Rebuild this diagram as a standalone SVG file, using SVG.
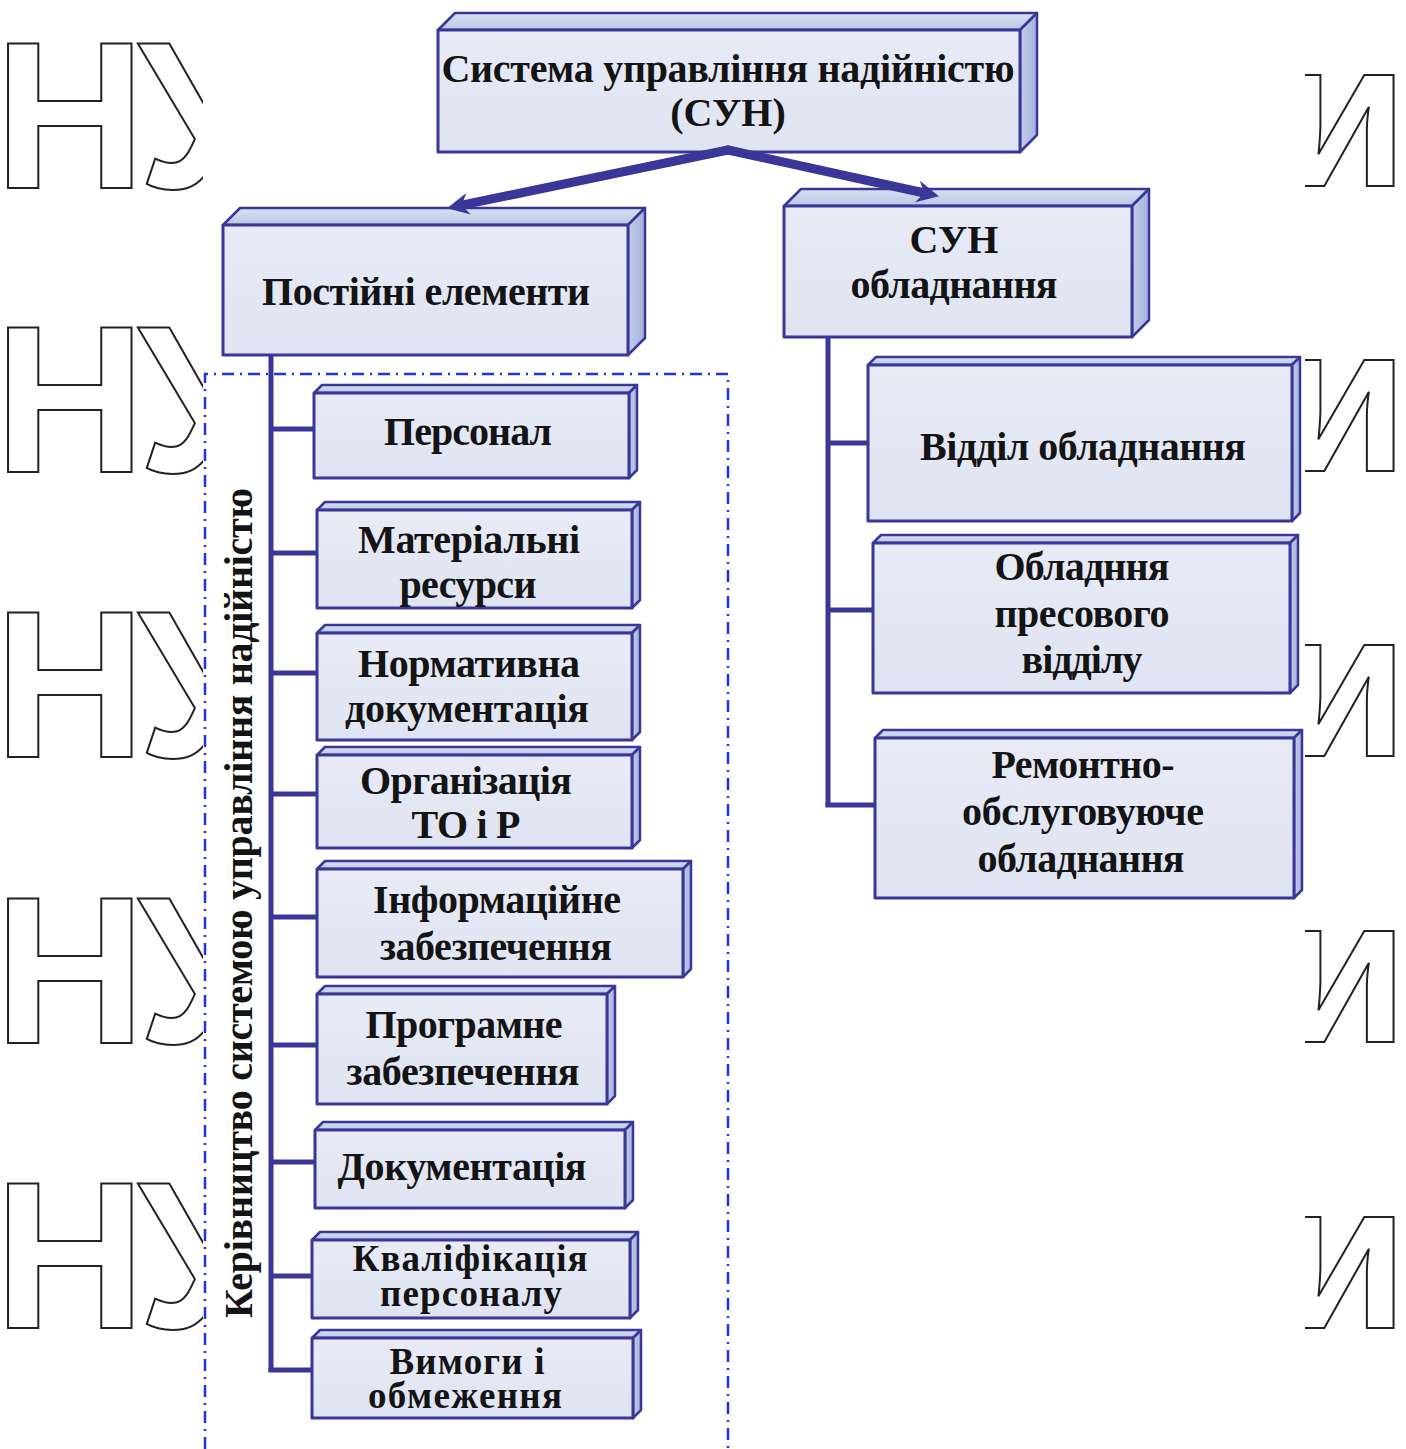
<svg xmlns="http://www.w3.org/2000/svg" width="1406" height="1449" viewBox="0 0 1406 1449">
<defs>
<style>
.front{fill:url(#gFront);stroke:#3a3799;stroke-width:3;stroke-linejoin:round}
.top{fill:url(#gTop);stroke:#3a3799;stroke-width:2.5;stroke-linejoin:round}
.side{fill:url(#gSide);stroke:#3a3799;stroke-width:2.5;stroke-linejoin:round}
.t{font-family:"Liberation Serif","Times New Roman",serif;font-weight:bold;font-size:40px;fill:#141414;text-anchor:middle}
.ts{font-size:37px}
.wm{font-family:"Liberation Sans",Arial,sans-serif;font-weight:bold;font-size:210px;fill:#ffffff;stroke:#222;stroke-width:2}
.conn{stroke:#3a3799;stroke-width:5;fill:none}
.arr{stroke:#3a3799;stroke-width:9;fill:none;stroke-linecap:round}
</style>
<linearGradient id="gFront" x1="0" y1="0" x2="0" y2="1"><stop offset="0" stop-color="#e8ebf6"/><stop offset="1" stop-color="#dfe4f2"/></linearGradient>
<linearGradient id="gTop" x1="0" y1="0" x2="0" y2="1"><stop offset="0" stop-color="#d9e1f1"/><stop offset="1" stop-color="#b9c6e4"/></linearGradient>
<linearGradient id="gSide" x1="0" y1="0" x2="1" y2="0"><stop offset="0" stop-color="#c3cde8"/><stop offset="1" stop-color="#a4b3dc"/></linearGradient>
<marker id="ah" markerUnits="userSpaceOnUse" viewBox="-6 -16 32 32" markerWidth="32" markerHeight="32" refX="4" refY="0" orient="auto">
<path d="M-3,-11 L19,0 L-3,11 L4,0 Z" fill="#3a3799"/>
</marker>
<clipPath id="clipL"><rect x="0" y="0" width="203" height="1449"/></clipPath>
<clipPath id="clipR"><rect x="1305" y="0" width="101" height="1449"/></clipPath>
</defs>
<rect x="0" y="0" width="1406" height="1449" fill="#ffffff"/>

<g id="watermark">
<g clip-path="url(#clipL)">
<text class="wm" x="-6" y="188" letter-spacing="-8">НУ</text>
<text class="wm" x="-6" y="472" letter-spacing="-8">НУ</text>
<text class="wm" x="-6" y="757" letter-spacing="-8">НУ</text>
<text class="wm" x="-6" y="1043" letter-spacing="-8">НУ</text>
<text class="wm" x="-6" y="1328" letter-spacing="-8">НУ</text>
</g>
<g clip-path="url(#clipR)">
<text class="wm" x="1408" y="186" text-anchor="end">и</text>
<text class="wm" x="1408" y="471" text-anchor="end">и</text>
<text class="wm" x="1408" y="756" text-anchor="end">и</text>
<text class="wm" x="1408" y="1042" text-anchor="end">и</text>
<text class="wm" x="1408" y="1328" text-anchor="end">и</text>
</g>
</g>

<g id="frame">
<path d="M205,1449 V374 H728 V1449" fill="none" stroke="#2233dd" stroke-width="2.5" stroke-dasharray="12 6 2 6"/>
<text class="t" transform="translate(252,903) rotate(-90)" x="0" y="0" textLength="830" lengthAdjust="spacing">Керівництво системою управління надійністю</text>
</g>

<g id="node-top">
<polygon class="top" points="438,30 455,13 1037,13 1020,30"/>
<polygon class="side" points="1020,30 1037,13 1037,135 1020,152"/>
<rect class="front" x="438" y="30" width="582" height="122"/>
<text class="t" x="728" y="82" textLength="573" lengthAdjust="spacing">Система управління надійністю</text>
<text class="t" x="728" y="126">(СУН)</text>
</g>

<g id="node-const">
<polygon class="top" points="223,225 240,208 645,208 628,225"/>
<polygon class="side" points="628,225 645,208 645,338 628,355"/>
<rect class="front" x="223" y="225" width="405" height="130"/>
<text class="t" x="426" y="305" textLength="328" lengthAdjust="spacing">Постійні елементи</text>
</g>

<g id="node-sun-eq">
<polygon class="top" points="784,206 801,189 1149,189 1132,206"/>
<polygon class="side" points="1132,206 1149,189 1149,320 1132,337"/>
<rect class="front" x="784" y="206" width="348" height="131"/>
<text class="t" x="954" y="253">СУН</text>
<text class="t" x="954" y="298" textLength="207" lengthAdjust="spacing">обладнання</text>
</g>

<g id="node-personal">
<polygon class="top" points="314,393 322,385 637,385 629,393"/>
<polygon class="side" points="629,393 637,385 637,470 629,478"/>
<rect class="front" x="314" y="393" width="315" height="85"/>
<text class="t" x="468" y="445" textLength="168" lengthAdjust="spacing">Персонал</text>
</g>

<g id="node-material">
<polygon class="top" points="317,510 325,502 640,502 632,510"/>
<polygon class="side" points="632,510 640,502 640,600 632,608"/>
<rect class="front" x="317" y="510" width="315" height="98"/>
<text class="t" x="469" y="553" textLength="222" lengthAdjust="spacing">Матеріальні</text>
<text class="t" x="468" y="598" textLength="137" lengthAdjust="spacing">ресурси</text>
</g>

<g id="node-norm">
<polygon class="top" points="317,633 325,625 640,625 632,633"/>
<polygon class="side" points="632,633 640,625 640,732 632,740"/>
<rect class="front" x="317" y="633" width="315" height="107"/>
<text class="t" x="469" y="677" textLength="222" lengthAdjust="spacing">Нормативна</text>
<text class="t" x="467" y="722" textLength="244" lengthAdjust="spacing">документація</text>
</g>

<g id="node-org">
<polygon class="top" points="317,755 325,747 640,747 632,755"/>
<polygon class="side" points="632,755 640,747 640,840 632,848"/>
<rect class="front" x="317" y="755" width="315" height="93"/>
<text class="t" x="466" y="794" textLength="212" lengthAdjust="spacing">Організація</text>
<text class="t" x="466" y="838" textLength="109" lengthAdjust="spacing">ТО і Р</text>
</g>

<g id="node-info">
<polygon class="top" points="317,869 325,861 691,861 683,869"/>
<polygon class="side" points="683,869 691,861 691,969 683,977"/>
<rect class="front" x="317" y="869" width="366" height="108"/>
<text class="t" x="497" y="913" textLength="248" lengthAdjust="spacing">Інформаційне</text>
<text class="t" x="496" y="960" textLength="232" lengthAdjust="spacing">забезпечення</text>
</g>

<g id="node-soft">
<polygon class="top" points="317,994 325,986 615,986 607,994"/>
<polygon class="side" points="607,994 615,986 615,1096 607,1104"/>
<rect class="front" x="317" y="994" width="290" height="110"/>
<text class="t" x="464" y="1038" textLength="197" lengthAdjust="spacing">Програмне</text>
<text class="t" x="463" y="1085" textLength="233" lengthAdjust="spacing">забезпечення</text>
</g>

<g id="node-doc">
<polygon class="top" points="315,1130 323,1122 633,1122 625,1130"/>
<polygon class="side" points="625,1130 633,1122 633,1200 625,1208"/>
<rect class="front" x="315" y="1130" width="310" height="78"/>
<text class="t" x="462" y="1180" textLength="249" lengthAdjust="spacing">Документація</text>
</g>

<g id="node-qual">
<polygon class="top" points="312,1240 320,1232 638,1232 630,1240"/>
<polygon class="side" points="630,1240 638,1232 638,1310 630,1318"/>
<rect class="front" x="312" y="1240" width="318" height="78"/>
<text class="t ts" x="470" y="1271" textLength="235" lengthAdjust="spacing">Кваліфікація</text>
<text class="t ts" x="471" y="1306" textLength="182" lengthAdjust="spacing">персоналу</text>
</g>

<g id="node-req">
<polygon class="top" points="312,1338 320,1330 641,1330 633,1338"/>
<polygon class="side" points="633,1338 641,1330 641,1410 633,1418"/>
<rect class="front" x="312" y="1338" width="321" height="80"/>
<text class="t ts" x="467" y="1374" textLength="155" lengthAdjust="spacing">Вимоги і</text>
<text class="t ts" x="465" y="1408" textLength="194" lengthAdjust="spacing">обмеження</text>
</g>

<g id="node-dept">
<polygon class="top" points="868,365 876,357 1300,357 1292,365"/>
<polygon class="side" points="1292,365 1300,357 1300,513 1292,521"/>
<rect class="front" x="868" y="365" width="424" height="156"/>
<text class="t" x="1083" y="460" textLength="326" lengthAdjust="spacing">Відділ обладнання</text>
</g>

<g id="node-press">
<polygon class="top" points="873,543 881,535 1298,535 1290,543"/>
<polygon class="side" points="1290,543 1298,535 1298,685 1290,693"/>
<rect class="front" x="873" y="543" width="417" height="150"/>
<text class="t" x="1082" y="580" textLength="175" lengthAdjust="spacing">Обладння</text>
<text class="t" x="1082" y="627" textLength="175" lengthAdjust="spacing">пресового</text>
<text class="t" x="1082" y="673" textLength="121" lengthAdjust="spacing">відділу</text>
</g>

<g id="node-repair">
<polygon class="top" points="875,738 883,730 1302,730 1294,738"/>
<polygon class="side" points="1294,738 1302,730 1302,890 1294,898"/>
<rect class="front" x="875" y="738" width="419" height="160"/>
<text class="t" x="1083" y="778" textLength="183" lengthAdjust="spacing">Ремонтно-</text>
<text class="t" x="1083" y="825" textLength="242" lengthAdjust="spacing">обслуговуюче</text>
<text class="t" x="1081" y="872" textLength="207" lengthAdjust="spacing">обладнання</text>
</g>

<g id="connectors">
<line class="arr" x1="728" y1="150" x2="461.7" y2="205.2" marker-end="url(#ah)"/>
<line class="arr" x1="728" y1="150" x2="924.3" y2="193" marker-end="url(#ah)"/>
<line class="conn" x1="271" y1="356" x2="271" y2="1372"/>
<line class="conn" x1="271" y1="429" x2="313" y2="429"/>
<line class="conn" x1="271" y1="553" x2="316" y2="553"/>
<line class="conn" x1="271" y1="673" x2="316" y2="673"/>
<line class="conn" x1="271" y1="794" x2="316" y2="794"/>
<line class="conn" x1="271" y1="917" x2="316" y2="917"/>
<line class="conn" x1="271" y1="1045" x2="316" y2="1045"/>
<line class="conn" x1="271" y1="1162" x2="314" y2="1162"/>
<line class="conn" x1="271" y1="1276" x2="311" y2="1276"/>
<line class="conn" x1="268.5" y1="1370" x2="311" y2="1370"/>
<line class="conn" x1="828" y1="338" x2="828" y2="807"/>
<line class="conn" x1="828" y1="443" x2="867" y2="443"/>
<line class="conn" x1="828" y1="610" x2="872" y2="610"/>
<line class="conn" x1="825.5" y1="805" x2="874" y2="805"/>
</g>
</svg>
